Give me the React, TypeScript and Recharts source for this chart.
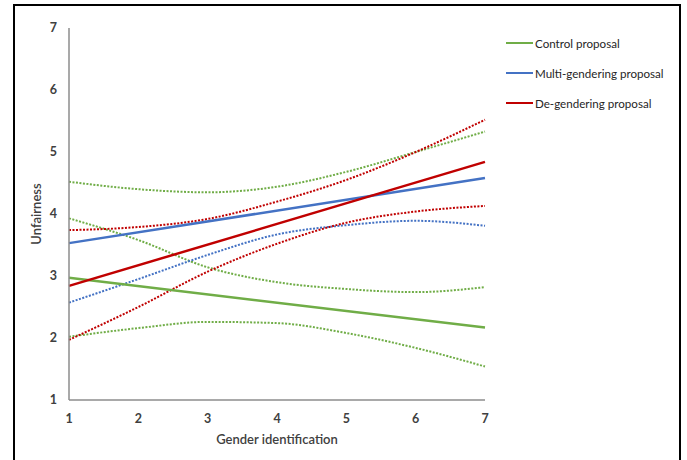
import React from "react";
import { LineChart, Line, XAxis, YAxis, Label, Legend } from "recharts";

// Tick labels
const xTicks = [1, 2, 3, 4, 5, 6, 7];
const yTicks = [1, 2, 3, 4, 5, 6, 7];

// Fitted (solid) lines: endpoints at x = 1 and x = 7
const fitX = [1, 7];
const controlFit = [2.97, 2.17];
const multiFit = [3.53, 4.58];
const degenderFit = [2.84, 4.84];

// Dotted confidence curves at x = 1..7
const curveX = [1, 2, 3, 4, 5, 6, 7];
const controlUpper = [4.52, 4.4, 4.35, 4.44, 4.68, 5.0, 5.33];
const controlMiddle = [3.93, 3.58, 3.14, 2.9, 2.79, 2.74, 2.82];
const controlLower = [2.02, 2.16, 2.26, 2.24, 2.08, 1.84, 1.54];
const degenderUpper = [3.74, 3.79, 3.92, 4.2, 4.55, 5.0, 5.52];
const degenderLower = [1.97, 2.5, 3.07, 3.52, 3.86, 4.04, 4.13];
const multiLower = [2.57, 2.95, 3.34, 3.67, 3.82, 3.89, 3.81];

const seriesNames = ["Control proposal", "Multi-gendering proposal", "De-gendering proposal"];
const seriesColors = ["#70AD47", "#4472C4", "#C00000"];

const toRows = (xs: number[], ys: number[]) => xs.map((x, i) => ({ x, y: ys[i] }));

const dotted = [
  { key: "cu", data: toRows(curveX, controlUpper), color: seriesColors[0] },
  { key: "cm", data: toRows(curveX, controlMiddle), color: seriesColors[0] },
  { key: "cl", data: toRows(curveX, controlLower), color: seriesColors[0] },
  { key: "ml", data: toRows(curveX, multiLower), color: seriesColors[1] },
  { key: "du", data: toRows(curveX, degenderUpper), color: seriesColors[2] },
  { key: "dl", data: toRows(curveX, degenderLower), color: seriesColors[2] },
];

const solid = [
  { name: seriesNames[0], data: toRows(fitX, controlFit), color: seriesColors[0] },
  { name: seriesNames[1], data: toRows(fitX, multiFit), color: seriesColors[1] },
  { name: seriesNames[2], data: toRows(fitX, degenderFit), color: seriesColors[2] },
];

const FONT = "Lato, 'Open Sans', sans-serif";

const LegendContent = () => (
  <div style={{ fontFamily: FONT, fontSize: 11.6, color: "#262626" }}>
    {seriesNames.map((n, i) => (
      <div key={n} style={{ display: "flex", alignItems: "center", height: 30 }}>
        <svg width={29} height={4} style={{ marginRight: 1 }}>
          <line x1={1} y1={2} x2={28} y2={2} stroke={seriesColors[i]} strokeWidth={2} />
        </svg>
        <span>{n}</span>
      </div>
    ))}
  </div>
);

export default function App() {
  return (
    <div style={{ position: "absolute", left: 0, top: 0, width: 687, height: 460, background: "#fff", overflow: "hidden" }}>
      <div
        style={{
          position: "absolute",
          left: 13,
          top: 4,
          width: 664,
          height: 480,
          border: "2.5px solid #000",
          boxSizing: "content-box",
        }}
      />
      <div style={{ position: "absolute", left: 0, top: 0 }}>
        <LineChart width={687} height={460} margin={{ top: 28, right: 202, bottom: 30, left: 39 }}>
          <XAxis
            type="number"
            dataKey="x"
            domain={[1, 7]}
            ticks={xTicks}
            allowDuplicatedCategory={false}
            height={30}
            tickLine={false}
            tickSize={6}
            tickMargin={8}
            axisLine={{ stroke: "#8c8c8c", strokeWidth: 1.5 }}
            tick={{ fill: "#404040", fontSize: 12.5, fontWeight: 700, fontFamily: FONT }}
          >
            <Label
              value="Gender identification"
              position="insideBottom"
              offset={-14}
              style={{ fill: "#404040", fontSize: 13, fontWeight: 600, fontFamily: FONT }}
            />
          </XAxis>
          <YAxis
            type="number"
            dataKey="y"
            domain={[1, 7]}
            ticks={yTicks}
            width={30}
            tickLine={false}
            tickSize={6}
            tickMargin={6}
            axisLine={{ stroke: "#8c8c8c", strokeWidth: 1.5 }}
            tick={{ fill: "#404040", fontSize: 12.5, fontWeight: 700, fontFamily: FONT }}
          >
            <Label
              value="Unfairness"
              angle={-90}
              position="insideLeft"
              offset={-3}
              style={{ textAnchor: "middle", fill: "#404040", fontSize: 13, fontWeight: 600, fontFamily: FONT }}
            />
          </YAxis>
          <Legend
            layout="vertical"
            align="center"
            verticalAlign="middle"
            content={<LegendContent />}
            wrapperStyle={{ left: 505, top: 28, width: 180 }}
          />
          {dotted.map((d) => (
            <Line
              key={d.key}
              data={d.data}
              dataKey="y"
              type="monotone"
              stroke={d.color}
              strokeWidth={2}
              strokeDasharray="2 1.5"
              dot={false}
              activeDot={false}
              legendType="none"
              isAnimationActive={false}
            />
          ))}
          {solid.map((s) => (
            <Line
              key={s.name}
              name={s.name}
              data={s.data}
              dataKey="y"
              type="linear"
              stroke={s.color}
              strokeWidth={2.5}
              dot={false}
              activeDot={false}
              isAnimationActive={false}
            />
          ))}
        </LineChart>
      </div>
    </div>
  );
}
